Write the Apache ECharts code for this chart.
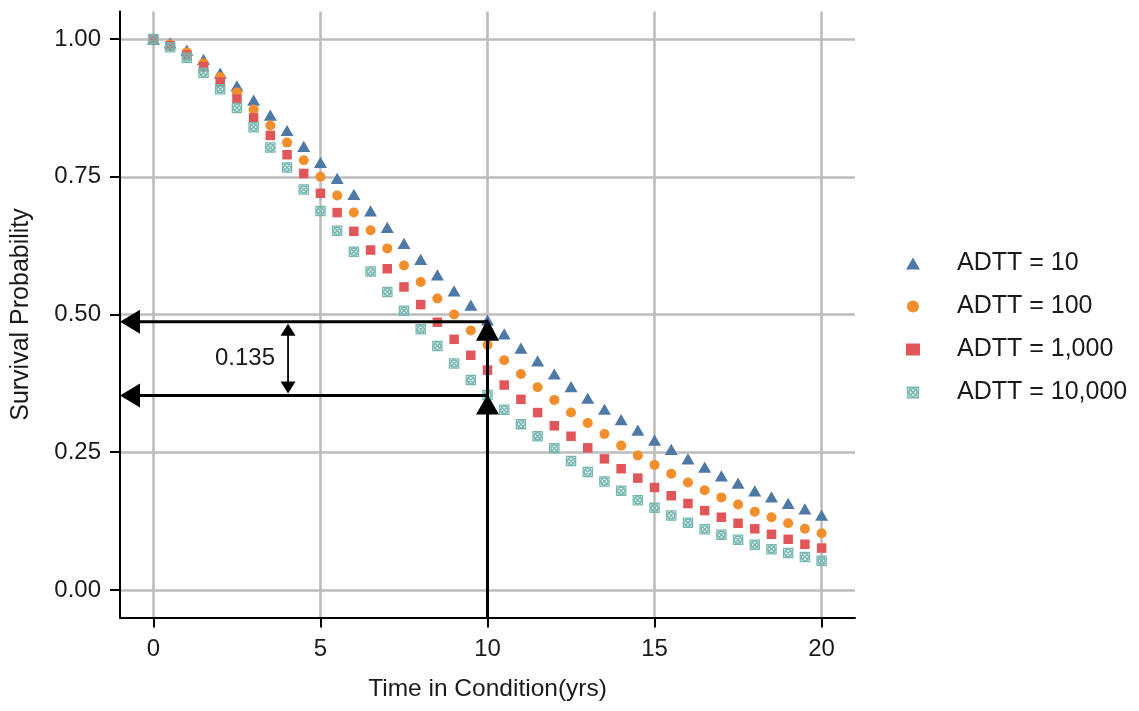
<!DOCTYPE html>
<html>
<head>
<meta charset="utf-8">
<script src="https://cdn.jsdelivr.net/npm/echarts@6/dist/echarts.min.js"></script>
<style>
  html, body { margin: 0; padding: 0; background: #ffffff; }
  #chart { width: 1139px; height: 711px; }
</style>
</head>
<body>
<div id="chart"></div>
<script>
// ---- data ----
const times = [0,0.5,1,1.5,2,2.5,3,3.5,4,4.5,5,5.5,6,6.5,7,7.5,8,8.5,9,9.5,10,
               10.5,11,11.5,12,12.5,13,13.5,14,14.5,15,15.5,16,16.5,17,17.5,18,18.5,19,19.5,20];

const seriesNames = ['ADTT = 10', 'ADTT = 100', 'ADTT = 1,000', 'ADTT = 10,000'];

const adtt10 = [1.000,0.993,0.980,0.963,0.938,0.915,0.889,0.862,0.834,0.805,0.776,
                0.747,0.718,0.688,0.658,0.629,0.600,0.572,0.543,0.517,0.490,
                0.465,0.439,0.416,0.392,0.369,0.348,0.328,0.309,0.290,0.272,
                0.255,0.238,0.223,0.207,0.194,0.180,0.169,0.157,0.147,0.136];

const adtt100 = [1.000,0.990,0.976,0.956,0.931,0.903,0.872,0.843,0.812,0.780,0.750,
                 0.716,0.685,0.653,0.620,0.589,0.559,0.529,0.500,0.471,0.445,
                 0.417,0.392,0.368,0.345,0.322,0.303,0.283,0.262,0.244,0.227,
                 0.211,0.195,0.181,0.168,0.155,0.142,0.132,0.121,0.111,0.103];

const adtt1000 = [1.000,0.988,0.971,0.950,0.922,0.891,0.857,0.825,0.790,0.756,0.720,
                  0.685,0.651,0.617,0.583,0.550,0.518,0.486,0.455,0.426,0.399,
                  0.372,0.346,0.322,0.298,0.279,0.258,0.238,0.220,0.203,0.186,
                  0.171,0.157,0.144,0.132,0.121,0.111,0.101,0.092,0.083,0.076];

const adtt10000 = [1.000,0.985,0.966,0.939,0.909,0.875,0.840,0.803,0.767,0.727,0.688,
                   0.652,0.614,0.578,0.541,0.507,0.473,0.443,0.411,0.381,0.354,
                   0.327,0.301,0.279,0.257,0.234,0.214,0.197,0.180,0.163,0.149,
                   0.135,0.122,0.110,0.100,0.091,0.082,0.074,0.067,0.060,0.053];

const xTicks = [0, 5, 10, 15, 20];
const yTicks = [0, 0.25, 0.5, 0.75, 1];

// annotation values (data units)
const refTime = 10;
const probHigh = 0.487;
const probLow = 0.353;
const gapTime = 4.03;
const gapLabel = '0.135';
const gapLabelPos = [2.74, 0.42];

// ---- styling ----
const FONT = 'Liberation Sans, Arial, Helvetica, sans-serif';
const TEXT = '#1a1a1a';
const colors = ['#4e79a7', '#f28e2b', '#e15759', '#76b7b2'];
const crossPath = 'path://M0 0H20V20H0Z M2.4 2.4V17.6H17.6V2.4Z ' +
  'M10 2.4A7.6 7.6 0 1 1 10 17.6A7.6 7.6 0 1 1 10 2.4Z M10 4.8A5.2 5.2 0 1 0 10 15.2A5.2 5.2 0 1 0 10 4.8Z ' +
  'M2.6 4.6L4.6 2.6L17.4 15.4L15.4 17.4Z M15.4 2.6L17.4 4.6L4.6 17.4L2.6 15.4Z';
const trianglePath = 'path://M10 0L20 17.3L0 17.3Z';
const symbols = [trianglePath, 'circle', 'rect', crossPath];
const symbolSizes = [[13, 11.2], 10, 9.5, 10.5];
const values = [adtt10, adtt100, adtt1000, adtt10000];

const scatterSeries = values.map((vals, i) => ({
  type: 'scatter',
  name: seriesNames[i],
  data: times.map((t, j) => [t, vals[j]]),
  symbol: symbols[i],
  symbolSize: symbolSizes[i],
  itemStyle: { color: colors[i], opacity: 1 },
  emphasis: { disabled: true },
  z: 3 + i
}));

function renderAnnotations(params, api) {
  const P = (x, y) => api.coord([x, y]);
  const xMin = -1, yMin = -0.05;
  const hi = P(refTime, probHigh);
  const lo = P(refTime, probLow);
  const left = P(xMin, probHigh)[0];
  const bottom = P(refTime, yMin)[1];
  const gx = P(gapTime, probHigh)[0];
  const black = { stroke: '#000', lineWidth: 3 };
  const fillB = { fill: '#000' };
  const children = [];
  [hi[1], lo[1]].forEach(y => {
    children.push({ type: 'line', shape: { x1: hi[0], y1: y, x2: left + 15, y2: y }, style: black });
    children.push({ type: 'polygon', shape: { points: [[left, y], [left + 20, y - 12], [left + 20, y + 12]] }, style: fillB });
  });
  children.push({ type: 'line', shape: { x1: hi[0], y1: bottom, x2: hi[0], y2: hi[1] + 10 }, style: black });
  children.push({ type: 'polygon', shape: { points: [[hi[0], hi[1] - 3], [hi[0] - 11.5, hi[1] + 19], [hi[0] + 11.5, hi[1] + 19]] }, style: fillB });
  children.push({ type: 'polygon', shape: { points: [[lo[0], lo[1] - 1], [lo[0] - 11.5, lo[1] + 19], [lo[0] + 11.5, lo[1] + 19]] }, style: fillB });
  const t1 = hi[1] + 2, t2 = lo[1] - 2;
  children.push({ type: 'line', shape: { x1: gx, y1: t1 + 8, x2: gx, y2: t2 - 8 }, style: { stroke: '#000', lineWidth: 1.8 } });
  children.push({ type: 'polygon', shape: { points: [[gx, t1], [gx - 7.5, t1 + 12], [gx + 7.5, t1 + 12]] }, style: fillB });
  children.push({ type: 'polygon', shape: { points: [[gx, t2], [gx - 7.5, t2 - 12], [gx + 7.5, t2 - 12]] }, style: fillB });
  const lp = P(gapLabelPos[0], gapLabelPos[1]);
  children.push({ type: 'text', x: lp[0], y: lp[1], style: { text: gapLabel, fontSize: 24, fontFamily: FONT, fill: TEXT, align: 'center', verticalAlign: 'middle' } });
  return { type: 'group', children };
}

const chart = echarts.init(document.getElementById('chart'), null, { renderer: 'canvas' });
chart.setOption({
  animation: false,
  backgroundColor: '#ffffff',
  textStyle: { fontFamily: FONT },
  grid: { left: 120, right: 284, top: 11.5, bottom: 93.5, containLabel: false, outerBoundsMode: 'none' },
  legend: {
    data: seriesNames,
    orient: 'vertical',
    left: 901,
    top: 246,
    itemWidth: 14,
    itemHeight: 12,
    itemGap: 18,
    textStyle: { fontSize: 25, color: TEXT, fontFamily: FONT, padding: [0, 0, 0, 32] },
    selectedMode: false
  },
  xAxis: {
    type: 'value',
    min: -1,
    max: 21,
    name: 'Time in Condition(yrs)',
    nameLocation: 'middle',
    nameGap: 59,
    nameTextStyle: { fontSize: 24.5, color: TEXT, fontFamily: FONT },
    axisLine: { show: true, onZero: false, lineStyle: { color: '#000', width: 2 } },
    axisTick: { show: true, customValues: xTicks, length: 10, lineStyle: { color: '#000', width: 2 } },
    axisLabel: { customValues: xTicks, fontSize: 24, color: TEXT, margin: 20, fontFamily: FONT },
    splitLine: { show: true, lineStyle: { color: '#bdbdbd', width: 2.6 } }
  },
  yAxis: {
    type: 'value',
    min: -0.05,
    max: 1.05,
    name: 'Survival Probability',
    nameLocation: 'middle',
    nameGap: 86,
    nameTextStyle: { fontSize: 25, color: TEXT, fontFamily: FONT },
    axisLine: { show: true, onZero: false, lineStyle: { color: '#000', width: 2 } },
    axisTick: { show: true, customValues: yTicks, length: 10, lineStyle: { color: '#000', width: 2 } },
    axisLabel: { customValues: yTicks, fontSize: 24, color: TEXT, margin: 19, fontFamily: FONT,
                 formatter: v => v.toFixed(2) },
    splitLine: { show: true, lineStyle: { color: '#bdbdbd', width: 2.6 } }
  },
  series: scatterSeries.concat([{
    type: 'custom',
    name: 'annotations',
    data: [[0, 0]],
    renderItem: renderAnnotations,
    silent: true,
    clip: false,
    z: 10
  }])
});
</script>
</body>
</html>
